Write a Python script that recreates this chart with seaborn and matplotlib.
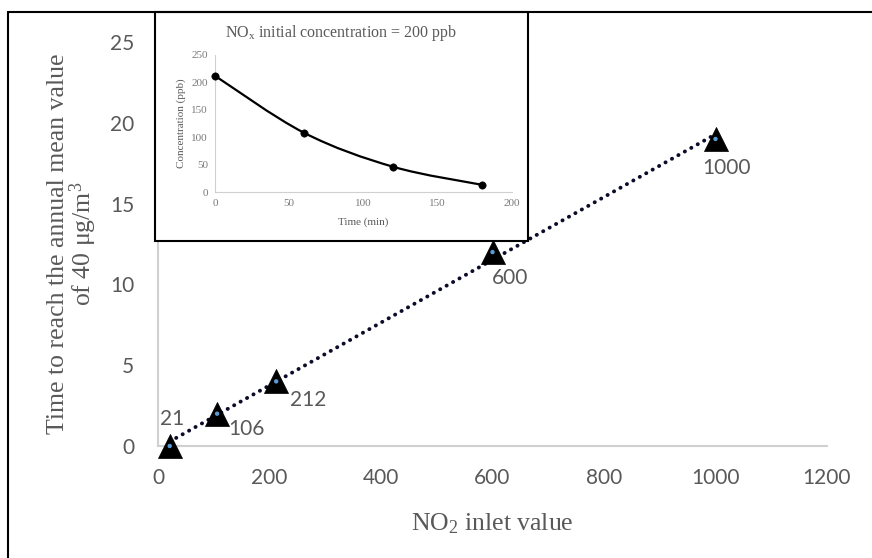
import numpy as np
import pandas as pd
import matplotlib
matplotlib.use("Agg")
import matplotlib.pyplot as plt
import seaborn as sns
from matplotlib.path import Path
from matplotlib.patches import PathPatch, Rectangle
from matplotlib.lines import Line2D

# ---- data ----
no2_inlet = [21, 106, 212, 600, 1000]
time_to_reach = [0, 2, 4, 12, 19]
point_labels = ["21", "106", "212", "600", "1000"]

inset_time = [0, 60, 120, 180]
inset_conc = [212, 108, 46, 13]

x_ticks = [0, 200, 400, 600, 800, 1000, 1200]
y_ticks = [0, 5, 10, 15, 20, 25]
inset_x_ticks = [0, 50, 100, 150, 200]
inset_y_ticks = [0, 50, 100, 150, 200, 250]

# label offsets in pixels (dx, dy; dy positive = up)
label_offsets = [(2, 27), (29, -15), (32, -19), (18, -26), (11, -29)]

sns.set_theme(style="white")
plt.rcParams["font.family"] = ["Lato", "DejaVu Sans"]
plt.rcParams["mathtext.fontset"] = "custom"
plt.rcParams["mathtext.rm"] = "Liberation Serif"
plt.rcParams["mathtext.it"] = "Liberation Serif:italic"
plt.rcParams["mathtext.bf"] = "Liberation Serif:bold"

GRAY = "#595959"
AXGRAY = "#d0d0d0"

fig = plt.figure(figsize=(8.72, 5.58), dpi=100)
fig.patch.set_facecolor("white")
ax = fig.add_axes([158 / 872, 1 - 446 / 558, (827 - 158) / 872, (446 - 42) / 558])

df = pd.DataFrame({"x": no2_inlet, "y": time_to_reach})

# linear trendline (dotted)
coef = np.polyfit(df["x"], df["y"], 1)
trend = pd.DataFrame({"x": [min(no2_inlet), max(no2_inlet)]})
trend["y"] = np.polyval(coef, trend["x"])
sns.lineplot(data=trend, x="x", y="y", ax=ax, color="#0b0b2a", lw=2.8,
             linestyle=(0, (0.05, 1.85)), zorder=4)
ax.lines[-1].set_dash_capstyle("round")

sns.scatterplot(data=df, x="x", y="y", ax=ax, marker="^", s=300, color="black",
                edgecolor="black", linewidth=0.5, zorder=5, clip_on=False)
sns.scatterplot(data=df, x="x", y="y", ax=ax, marker="o", s=10, color="#5b9bd5",
                edgecolor="none", zorder=6, clip_on=False)

for xv, yv, lab, (dx, dy) in zip(no2_inlet, time_to_reach, point_labels, label_offsets):
    ax.annotate(lab, (xv, yv), xytext=(dx, dy), textcoords="offset pixels",
                ha="center", va="center", fontsize=15, color=GRAY, zorder=7)

ax.set_xlim(0, 1200)
ax.set_ylim(0, 25)
ax.set_xticks(x_ticks)
ax.set_yticks(y_ticks)
ax.set_xticklabels([str(t) for t in x_ticks])
ax.set_yticklabels([str(t) for t in y_ticks])
ax.tick_params(axis="both", length=0, labelsize=15, labelcolor=GRAY)
ax.tick_params(axis="y", pad=17)
ax.tick_params(axis="x", pad=16)
sns.despine(ax=ax)
for s in ["left", "bottom"]:
    ax.spines[s].set_color(AXGRAY)
    ax.spines[s].set_linewidth(1.5)

ax.set_xlabel("NO$_2$ inlet value", family="Liberation Serif", fontsize=18.5,
              color=GRAY, labelpad=17)
ax.set_ylabel("Time to reach the annual mean value\nof 40 μg/m$^3$", family="Liberation Serif",
              fontsize=18.5, color=GRAY, labelpad=8, linespacing=0.95)

# ---- inset ----
box = Rectangle((155 / 872, 1 - 241 / 558), (528 - 155) / 872, (241 - 12) / 558,
                transform=fig.transFigure, facecolor="white", edgecolor="black",
                lw=1.5, zorder=10)
fig.add_artist(box)

iax = fig.add_axes([215 / 872, 1 - 192 / 558, (512 - 215) / 872, (192 - 55) / 558])
iax.set_zorder(11)
iax.patch.set_alpha(0)

# smooth curve (Catmull-Rom style bezier through the points, like spreadsheet smoothing)
pts = np.column_stack([inset_time, inset_conc]).astype(float)
verts = [tuple(pts[0])]
codes = [Path.MOVETO]
n = len(pts)
for i in range(n - 1):
    p0 = pts[i - 1] if i > 0 else pts[i]
    p1 = pts[i]
    p2 = pts[i + 1]
    p3 = pts[i + 2] if i + 2 < n else pts[i + 1]
    c1 = p1 + (p2 - p0) / 6.0
    c2 = p2 - (p3 - p1) / 6.0
    verts += [tuple(c1), tuple(c2), tuple(p2)]
    codes += [Path.CURVE4] * 3
iax.add_patch(PathPatch(Path(verts, codes), facecolor="none", edgecolor="black", lw=1.6))

idf = pd.DataFrame({"t": inset_time, "c": inset_conc})
sns.scatterplot(data=idf, x="t", y="c", ax=iax, color="black", s=28, edgecolor="black",
                zorder=5, clip_on=False)
iax.set_xlim(0, 200)
iax.set_ylim(0, 250)
iax.set_xticks(inset_x_ticks)
iax.set_yticks(inset_y_ticks)
iax.tick_params(axis="both", length=0, labelsize=8, labelcolor="#7a7a7a", pad=5)
for lab in iax.get_xticklabels() + iax.get_yticklabels():
    lab.set_family("Liberation Serif")
sns.despine(ax=iax)
for s in ["left", "bottom"]:
    iax.spines[s].set_color(AXGRAY)
    iax.spines[s].set_linewidth(0.8)
iax.set_xlabel("Time (min)", family="Liberation Serif", fontsize=8, color=GRAY, labelpad=7)
iax.set_ylabel("Concentration (ppb)", family="Liberation Serif", fontsize=8, color=GRAY, labelpad=4)
fig.text(341.5 / 872, 1 - 33 / 558, "NO$_\\mathregular{x}$ initial concentration = 200 ppb",
         family="Liberation Serif", fontsize=11.5, color=GRAY, ha="center", va="center",
         zorder=12)

# outer frame (left and top edges)
fig.add_artist(Line2D([8 / 872, 8 / 872], [0, 1 - 12 / 558], transform=fig.transFigure,
                      color="black", lw=1.5, zorder=12))
fig.add_artist(Line2D([8 / 872, 1], [1 - 12 / 558, 1 - 12 / 558], transform=fig.transFigure,
                      color="black", lw=1.5, zorder=12))

fig.savefig("out.png", dpi=100, facecolor="white")
